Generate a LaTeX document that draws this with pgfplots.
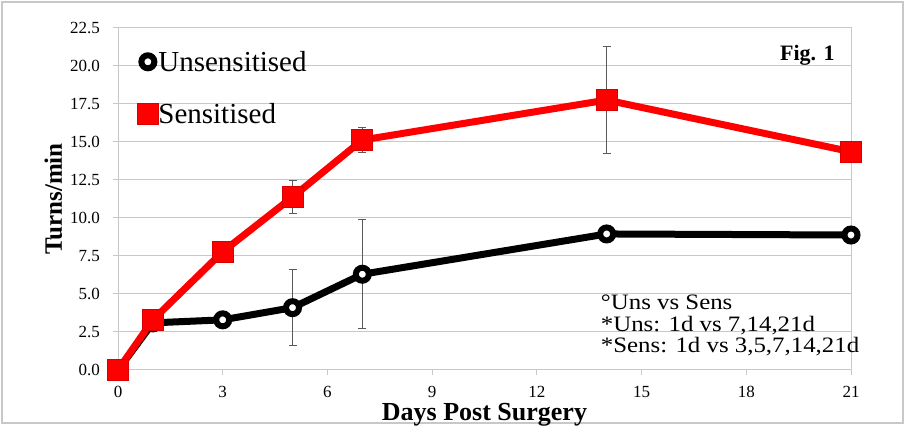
\documentclass[border=0pt]{standalone}
\usepackage{fontspec}
\setmainfont{Liberation Serif}
\usepackage{pgfplots}
\pgfplotsset{compat=1.18}

\definecolor{sensred}{RGB}{255,0,0}
\definecolor{gridgray}{RGB}{200,200,200}
\definecolor{errgray}{RGB}{90,90,90}

\newcommand{\note}[1]{\scalebox{1.13}[1]{#1}}

\begin{document}
\begin{tikzpicture}
\useasboundingbox (0pt,0pt) rectangle (905pt,427pt);
\draw[gridgray, line width=1.5pt] (2pt,4pt) rectangle (903pt,425pt);
\begin{axis}[
  at={(118pt,57pt)}, anchor=south west,
  scale only axis, width=733pt, height=342pt,
  xmin=0, xmax=21, ymin=0, ymax=22.5,
  clip=false,
  xtick={0,3,...,21},
  ytick={0,2.5,...,22.5},
  yticklabel style={/pgf/number format/fixed, /pgf/number format/fixed zerofill,
    /pgf/number format/precision=1, xshift=-13pt},
  /pgf/number format/assume math mode=true,
  ticklabel style={font=\fontsize{17}{17}\selectfont, inner sep=0pt},
  xticklabel style={yshift=-11pt},
  tick align=outside,
  major tick length=5pt,
  xtick pos=bottom, ytick pos=left,
  tick style={gridgray, line width=1pt},
  axis line style={gridgray, line width=1pt},
  ymajorgrids,
  grid style={gridgray, line width=1pt},
  xlabel={\textbf{Days Post Surgery}},
  xlabel style={font=\fontsize{26}{26}\selectfont, at={(axis description cs:0.5,-0.147)}, anchor=base, inner sep=0pt},
  ylabel={\textbf{Turns/min}},
  ylabel style={font=\fontsize{25}{25}\selectfont, at={(axis description cs:-0.0765,0.5)}, anchor=base, inner sep=0pt},
  legend style={at={(axis cs:0.55,21.0)}, anchor=north west, draw=none, fill=none,
    font=\fontsize{29}{29}\selectfont, row sep=31pt, inner sep=0pt,
    nodes={inner sep=0pt, anchor=west}},
  legend cell align=left,
  legend image code/.code={\draw[#1] plot[only marks] coordinates {(0pt,0pt)};},
  error bars/error bar style={errgray, line width=1pt},
  error bars/error mark options={errgray, line width=1pt, mark size=4pt, rotate=90},
]

% Unsensitised
\addplot[black, line width=7pt, mark=*, mark size=6.5pt,
  mark options={fill=white, draw=black, line width=6pt},
  error bars/.cd, y dir=both, y explicit]
  coordinates {
  (0,0) +- (0,0)
  (1,3.1) +- (0,0)
  (3,3.3) +- (0,0)
  (5,4.1) +- (0,2.5)
  (7,6.3) +- (0,3.6)
  (14,8.95) +- (0,0)
  (21,8.88) +- (0,0)
};
\addlegendentry{Unsensitised}

% Sensitised
\addplot[sensred, line width=7pt, mark=square*, mark size=10.5pt,
  mark options={fill=sensred, draw=sensred!85!black, line width=1pt},
  error bars/.cd, y dir=both, y explicit]
  coordinates {
  (0,0) +- (0,0)
  (1,3.3) +- (0,0)
  (3,7.78) +- (0,0)
  (5,11.38) +- (0,1.1)
  (7,15.13) +- (0,0.8)
  (14,17.76) +- (0,3.5)
  (21,14.36) +- (0,0)
};
\addlegendentry{Sensitised}

\node[anchor=base east, font=\fontsize{22}{22}\selectfont\bfseries] at (axis cs:20.63,20.39) {Fig. 1};
\node[anchor=base west, inner sep=0pt, font=\fontsize{22}{22}\selectfont] at (axis cs:13.83,3.95) {\note{°Uns vs Sens}};
\node[anchor=base west, inner sep=0pt, font=\fontsize{22}{22}\selectfont] at (axis cs:13.83,2.5) {\note{*Uns: 1d vs 7,14,21d}};
\node[anchor=base west, inner sep=0pt, font=\fontsize{22}{22}\selectfont] at (axis cs:13.83,1.12) {\note{*Sens: 1d vs 3,5,7,14,21d}};
\end{axis}
\end{tikzpicture}
\end{document}
